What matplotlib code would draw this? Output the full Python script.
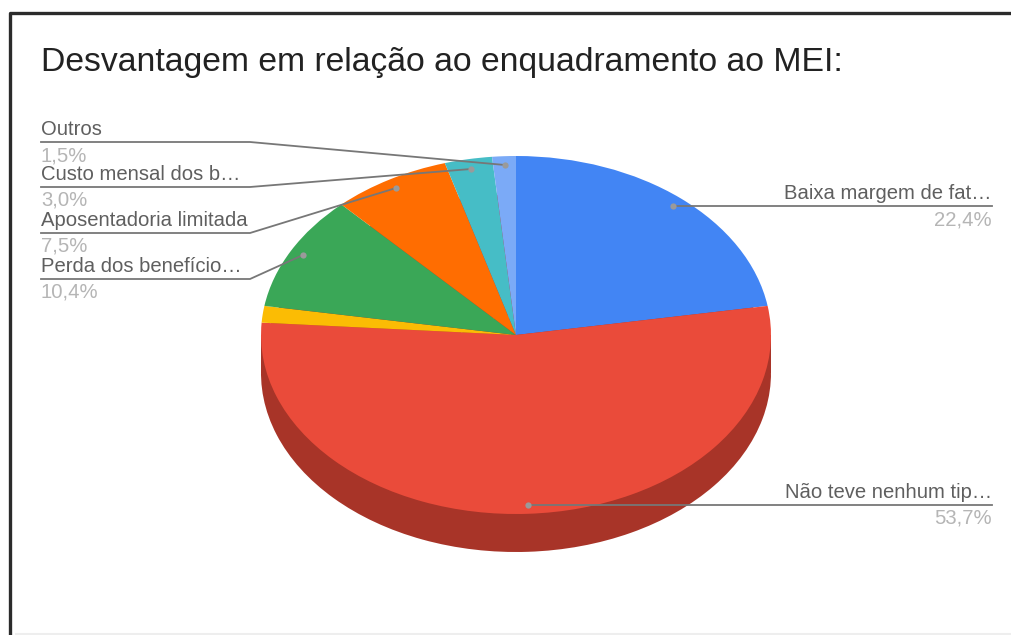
import matplotlib
matplotlib.use('Agg')
import matplotlib.pyplot as plt
from matplotlib.patches import Rectangle

plt.rcParams['font.family'] = ['Liberation Sans', 'DejaVu Sans']

W, H = 1011, 635
title = 'Desvantagem em relação ao enquadramento ao MEI:'

# clockwise from 12 o'clock
categories = ['Baixa margem de fat…', 'Não teve nenhum tip…', 'Sem rótulo',
              'Perda dos benefício…', 'Aposentadoria limitada',
              'Custo mensal dos b…', 'Outros']
values = [22.4, 53.7, 1.5, 10.4, 7.5, 3.0, 1.5]
value_labels = ['22,4%', '53,7%', '1,5%', '10,4%', '7,5%', '3,0%', '1,5%']
colors = ['#4285f4', '#ea4b3a', '#fbbc04', '#3aa757', '#ff6d01', '#46bdc6', '#7baaf7']
wall_color = '#a83428'

cx, cy = 516, 335
rx, ry = 255, 179
depth = 38

fig = plt.figure(figsize=(W / 100, H / 100), dpi=100, facecolor='white')

# page layer in pixel coordinates
bg = fig.add_axes([0, 0, 1, 1])
bg.set_xlim(0, W)
bg.set_ylim(H, 0)
bg.axis('off')
bg.plot([10, 10, W], [H, 13, 13], color='#2b2b2b', lw=2.4, solid_capstyle='butt')
bg.plot([16, W], [633.5, 633.5], color='#eeeeee', lw=1.5)

# pie axes: the unit circle squashed into the ellipse
pie_ax = fig.add_axes([(cx - rx) / W, 1 - (cy + ry + depth) / H, 2 * rx / W, (2 * ry + depth) / H])
pie_ax.pie(values, colors=[wall_color] * len(values), startangle=90, counterclock=False,
           center=(0, -depth / ry), radius=1)
pie_ax.add_patch(Rectangle((-1, -depth / ry), 2, depth / ry, color=wall_color, lw=0))
pie_ax.pie(values, colors=colors, startangle=90, counterclock=False, center=(0, 0), radius=1)
pie_ax.set_aspect('auto')
pie_ax.set_xlim(-1, 1)
pie_ax.set_ylim(-1 - depth / ry, 1)
pie_ax.axis('off')

# labels and leader lines on top
top = fig.add_axes([0, 0, 1, 1])
top.set_xlim(0, W)
top.set_ylim(H, 0)
top.axis('off')
top.patch.set_alpha(0)

top.text(41, 71, title, fontsize=24.3, color='#222222', va='baseline', ha='left')

line_color = '#777777'
name_color = '#5f5f5f'
value_color = '#b5b5b5'
label_size = 14.6

left_labels = [
    (categories[6], value_labels[6], 142, (505, 165)),
    (categories[5], value_labels[5], 187, (471, 169)),
    (categories[4], value_labels[4], 233, (396, 188)),
    (categories[3], value_labels[3], 279, (303, 255)),
]
for name, val, y, dot in left_labels:
    top.plot([41, 250, dot[0]], [y, y, dot[1]], color=line_color, lw=1.3)
    top.plot(*dot, 'o', ms=4.5, color='#9a9a9a', mec='none')
    top.text(41, y - 7, name, fontsize=label_size, color=name_color, va='baseline', ha='left')
    top.text(41, y + 19, val, fontsize=label_size, color=value_color, va='baseline', ha='left')

right_labels = [
    (categories[0], value_labels[0], 206, (673, 206)),
    (categories[1], value_labels[1], 505, (528, 505)),
]
for name, val, y, dot in right_labels:
    top.plot([992, dot[0]], [y, dot[1]], color=line_color, lw=1.3)
    top.plot(*dot, 'o', ms=4.5, color='#9a9a9a', mec='none')
    top.text(992, y - 7, name, fontsize=label_size, color=name_color, va='baseline', ha='right')
    top.text(992, y + 19, val, fontsize=label_size, color=value_color, va='baseline', ha='right')

fig.savefig('out.png', dpi=100, facecolor='white')
